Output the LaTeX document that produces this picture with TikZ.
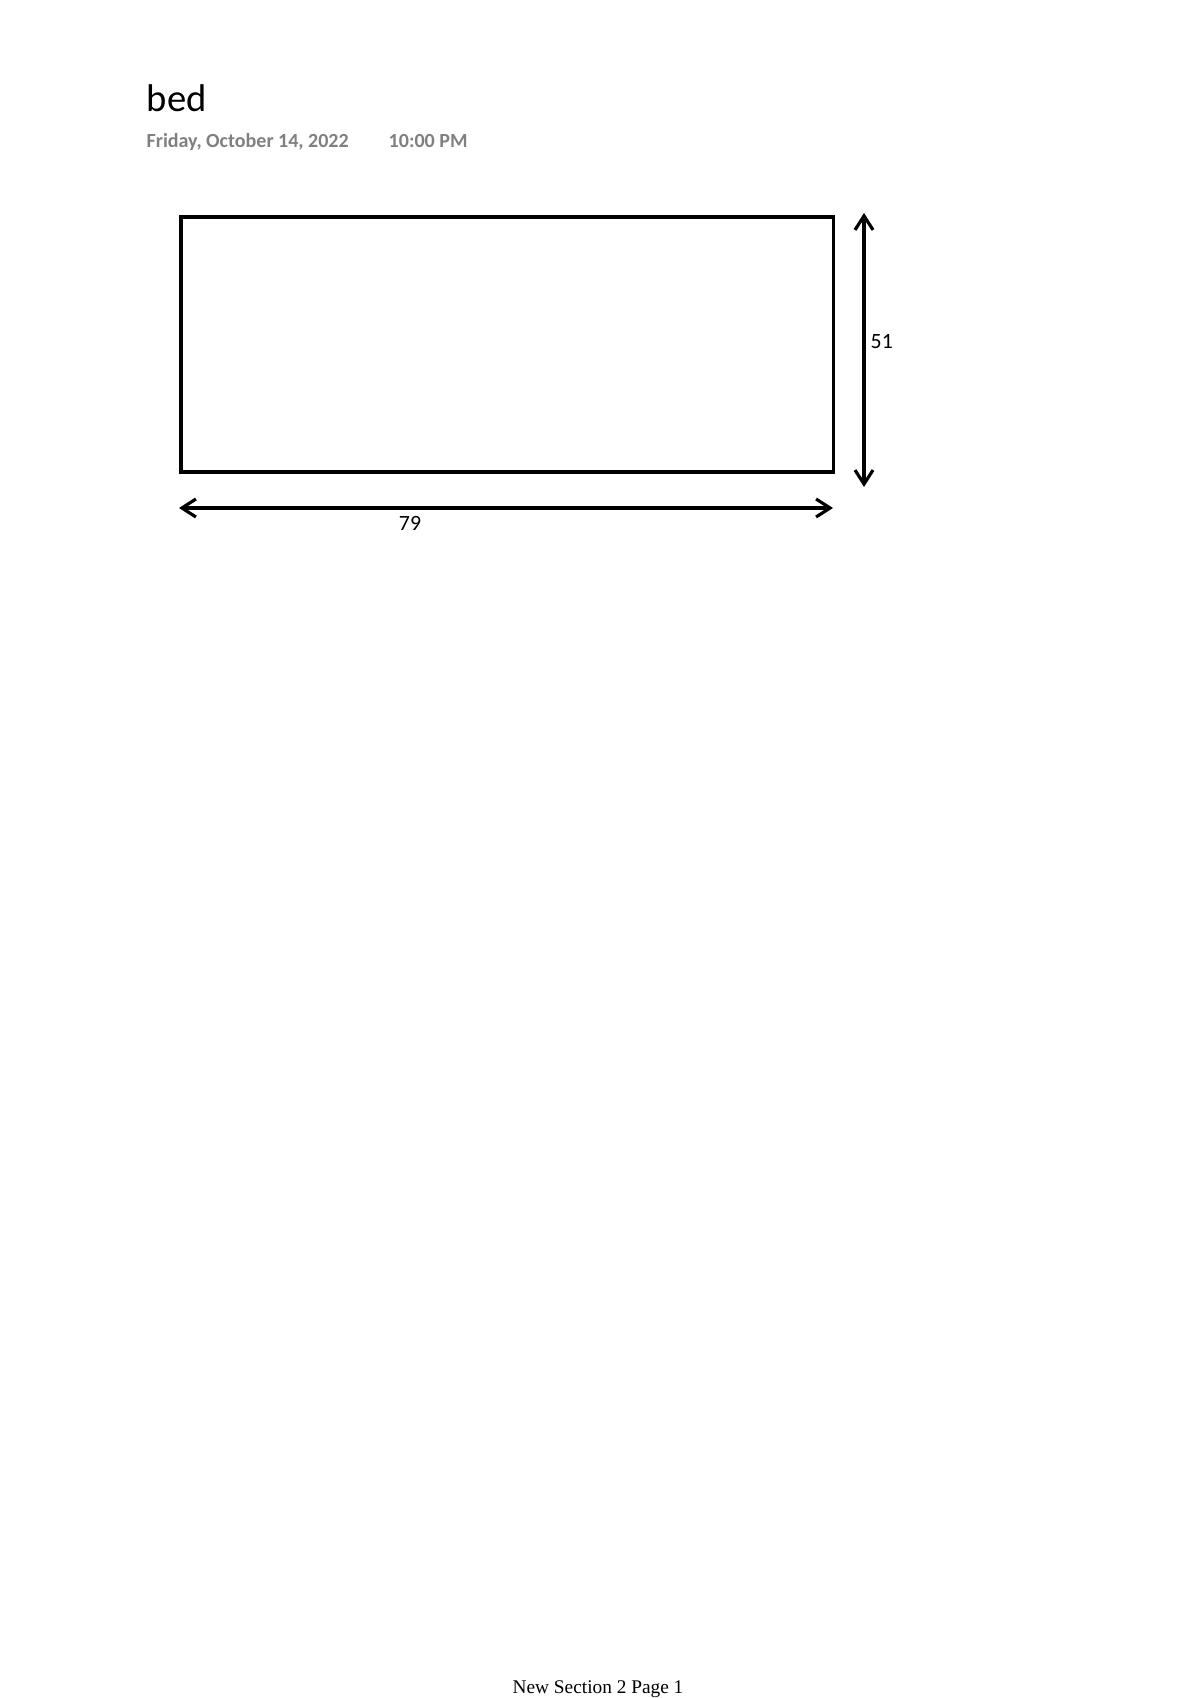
\documentclass[tikz,border=0pt]{standalone}
\usepackage{fontspec}
\setmainfont{Carlito}
\newfontfamily\footfont{Liberation Serif}
\usepackage{xcolor}
\usetikzlibrary{arrows.meta,positioning}
\definecolor{dategray}{RGB}{128,128,128}
\tikzset{%
	bedbox/.style  = {draw, rectangle, line width=0.9pt, minimum width=6.525cm, minimum height=2.55cm, inner sep=0pt},
	dimline/.style = {line width=0.9pt, {Straight Barb[length=1.4mm,width=1.8mm,line width=0.9pt]}-{Straight Barb[length=1.4mm,width=1.8mm,line width=0.9pt]}},
	dimlabel/.style= {inner sep=0pt, font=\fontsize{6.2pt}{7pt}\selectfont},
	datetext/.style= {anchor=base west, inner sep=0pt, text=dategray, font=\fontsize{5.7pt}{7pt}\selectfont\bfseries},
}
\begin{document}
\begin{tikzpicture}
		\useasboundingbox[fill=white] (0,0) rectangle (12,-16.98);
		
		\node[anchor=base west,inner sep=0pt,font=\fontsize{11pt}{13pt}\selectfont] (title) at (1.46,-1.12) {bed};
		\node[datetext] (date) at (1.46,-1.48) {Friday, October 14, 2022};
		\node[datetext] (time) at (3.88,-1.48) {10:00 PM};
		
		\node[bedbox] (bed) at (5.0725,-3.445) {};
		
		\coordinate (htop) at (8.64,-2.13);
		\coordinate (hbot) at (8.64,-4.87);
		\draw[dimline] (htop) -- (hbot);
		\node[dimlabel,anchor=west] (height) at (8.70,-3.42) {51};
		
		\coordinate (wleft) at (1.79,-5.08);
		\coordinate (wright) at (8.33,-5.08);
		\draw[dimline] (wleft) -- (wright);
		\node[dimlabel] (width) at (4.10,-5.23) {79};
		
		\node[anchor=base,inner sep=0pt,font=\footfont\fontsize{5.5pt}{6pt}\selectfont] (footer) at (5.98,-16.93) {New Section 2 Page 1};
\end{tikzpicture}
\end{document}
